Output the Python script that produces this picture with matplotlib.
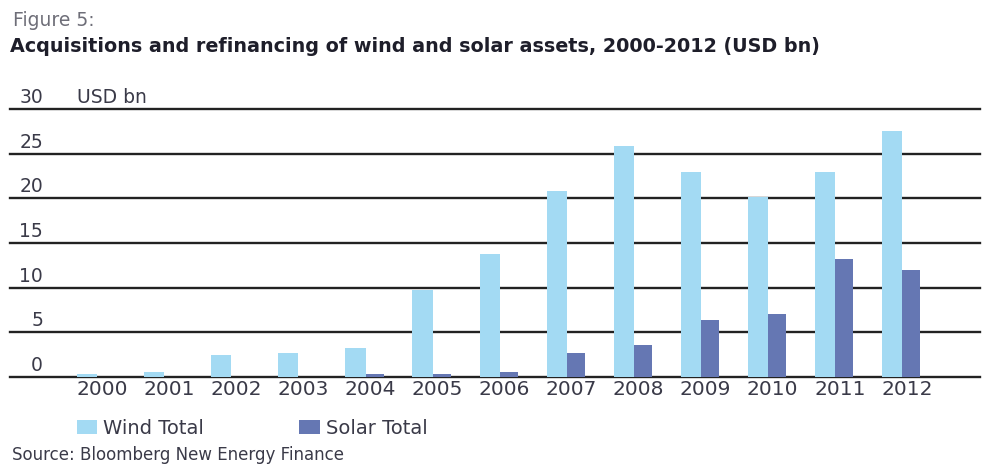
import matplotlib.pyplot as plt
import numpy as np

plt.rcParams['font.family'] = ['DejaVu Sans']

years = ["2000", "2001", "2002", "2003", "2004", "2005", "2006",
         "2007", "2008", "2009", "2010", "2011", "2012"]
wind_total = [0.3, 0.6, 2.5, 2.7, 3.2, 9.7, 13.8, 20.8, 25.9, 22.9, 20.1, 22.9, 27.5]
solar_total = [0.0, 0.0, 0.0, 0.0, 0.3, 0.3, 0.6, 2.7, 3.6, 6.4, 7.1, 13.2, 12.0]
yticks = [0, 5, 10, 15, 20, 25, 30]

wind_col = "#a3daf3"
solar_col = "#6577b3"
txt_col = "#3a3a48"

fig = plt.figure(figsize=(9.82, 4.66), dpi=100)
ax = fig.add_axes([10/982, 89/466, 970/982, 268/466])

x = np.arange(len(years))
ax.bar(x, wind_total, width=-0.30, align='edge', color=wind_col, zorder=2, label="Wind Total")
ax.bar(x, solar_total, width=0.27, align='edge', color=solar_col, zorder=2, label="Solar Total")

#lignes horizontales + valeurs au dessus
for v in yticks:
    ax.axhline(v, color="#222222", lw=1.7, zorder=1, clip_on=False)
    ax.annotate(str(v), xy=(0, v), xycoords=('axes fraction', 'data'),
                xytext=(33, 2), textcoords='offset pixels',
                ha='right', va='bottom', fontsize=13.5, color=txt_col)
ax.annotate("USD bn", xy=(0, 30), xycoords=('axes fraction', 'data'),
            xytext=(67, 2), textcoords='offset pixels',
            ha='left', va='bottom', fontsize=13.5, color=txt_col)

ax.set_xlim(-1.30, 13.16)
ax.set_ylim(0, 30)
ax.set_yticks([])
ax.set_xticks(x + 0.07)
ax.set_xticklabels(years, fontsize=14.5, color=txt_col)
ax.tick_params(axis='x', length=0, pad=2)
for s in ax.spines.values():
    s.set_visible(False)

fig.legend(loc='center left', bbox_to_anchor=(77/982, 1 - 428/466), ncol=2,
           frameon=False, fontsize=14, handlelength=1.05, handleheight=0.75,
           handletextpad=0.3, columnspacing=4.9, borderpad=0, borderaxespad=0,
           labelcolor=txt_col)

fig.text(13/982, 1 - 21/466, "Figure 5:", fontsize=13.5, color="#6e6e78", va='center')
fig.text(10/982, 1 - 47/466,
         "Acquisitions and refinancing of wind and solar assets, 2000-2012 (USD bn)",
         fontsize=13.8, fontweight='bold', color="#1e1e2a", va='center')
fig.text(12/982, 2/466, "Source: Bloomberg New Energy Finance",
         fontsize=12, color=txt_col, va='bottom')

fig.savefig("out.png", dpi=100)
